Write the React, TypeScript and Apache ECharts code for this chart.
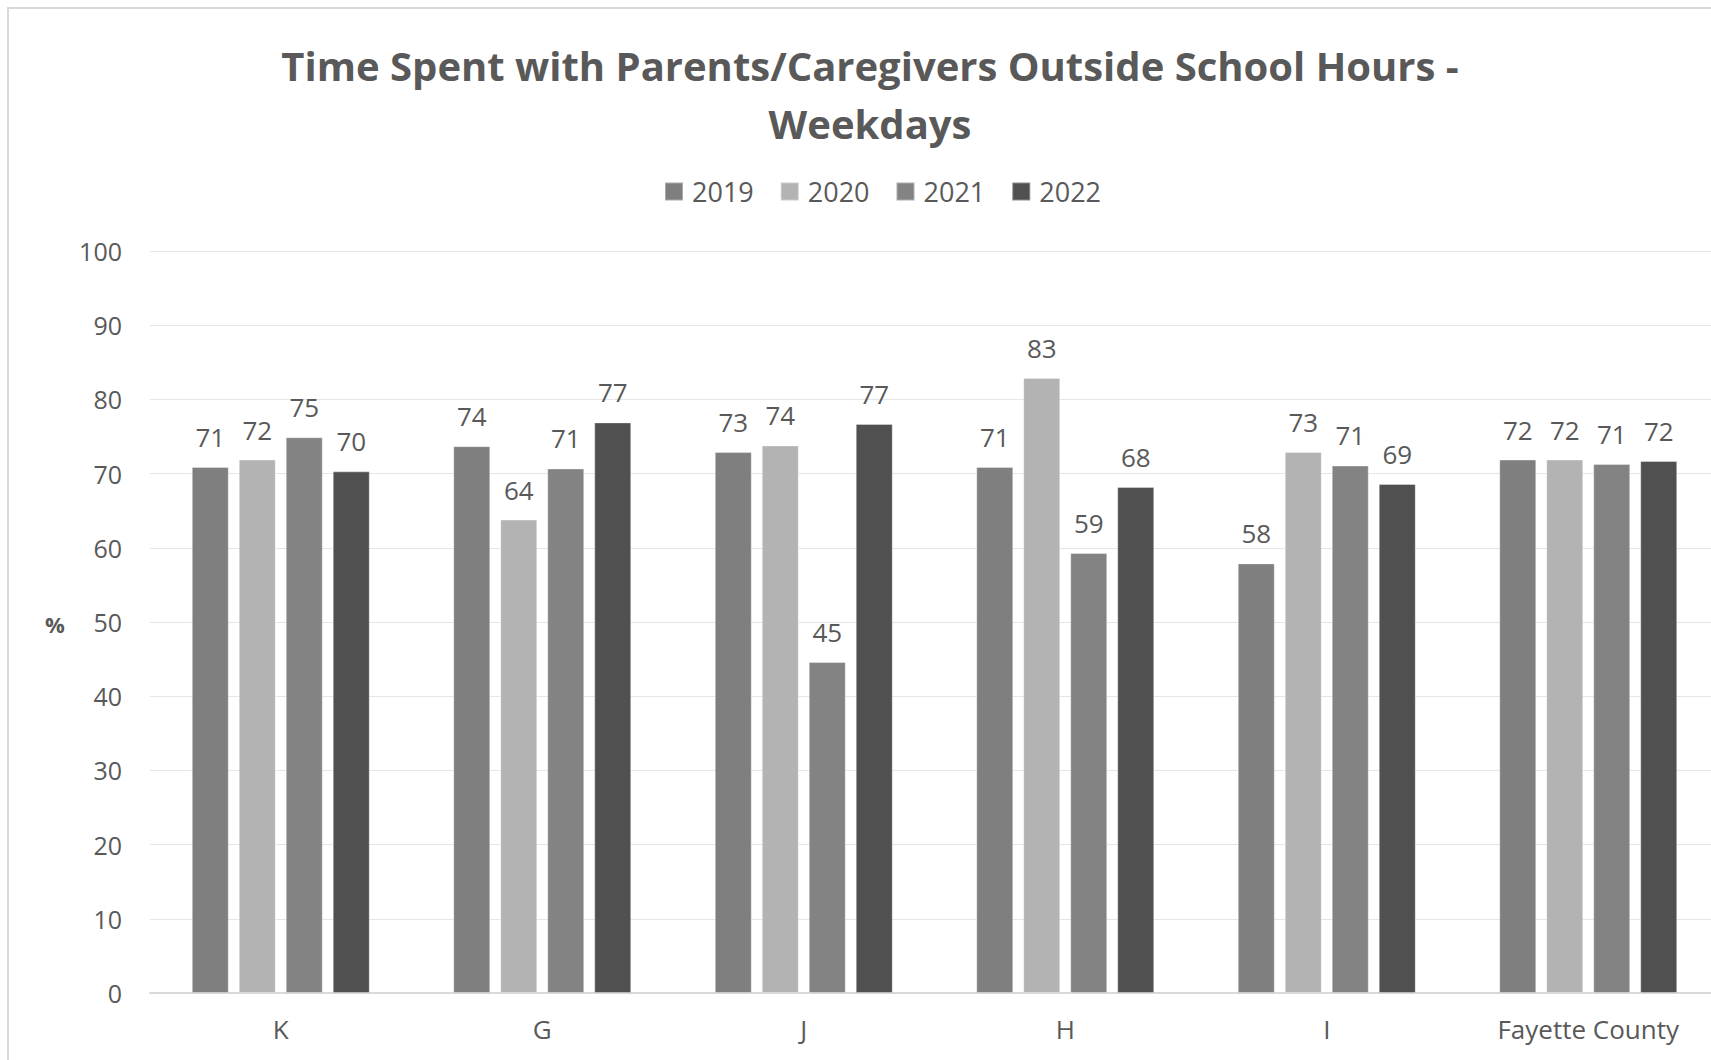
import React, { useEffect, useRef } from "react";
import * as echarts from "echarts";

const categories = ["K", "G", "J", "H", "I", "Fayette County"];
const seriesNames = ["2019", "2020", "2021", "2022"];
const values2019 = [70.9, 73.7, 72.9, 70.9, 57.9, 71.9];
const values2020 = [71.9, 63.8, 73.8, 82.9, 72.9, 71.9];
const values2021 = [74.9, 70.7, 44.6, 59.3, 71.1, 71.3];
const values2022 = [70.3, 76.9, 76.7, 68.2, 68.6, 71.7];
const colors = ["#7f7f7f", "#b3b3b3", "#838383", "#505050"];
const yTicks = { min: 0, max: 100, interval: 10 };

export default function App() {
  const ref = useRef<HTMLDivElement>(null);
  useEffect(() => {
    if (!ref.current) return;
    const chart = echarts.init(ref.current, null, { renderer: "svg" });
    const textColor = "#595959";
    const font = "'Open Sans', sans-serif";
    const allValues = [values2019, values2020, values2021, values2022];
    chart.setOption({
      animation: false,
      backgroundColor: "#ffffff",
      textStyle: { fontFamily: font },
      title: {
        text: "Time Spent with Parents/Caregivers Outside School Hours -\nWeekdays",
        left: 870,
        top: 36,
        padding: 0,
        textAlign: "center",
        textStyle: {
          fontFamily: font,
          fontWeight: "bold",
          fontSize: 40,
          lineHeight: 58,
          color: textColor,
        },
      },
      legend: {
        top: 173,
        left: 883,
        itemWidth: 18,
        itemHeight: 18,
        itemGap: 26,
        icon: "rect",
        textStyle: { fontFamily: font, fontSize: 27, color: textColor, padding: [0, 0, 0, 4] },
        data: seriesNames,
      },
      grid: { left: 150, right: 0, top: 251, bottom: 67, containLabel: false },
      xAxis: {
        type: "category",
        data: categories,
        axisLine: { show: true, lineStyle: { color: "#d9d9d9", width: 2 } },
        axisTick: { show: false },
        axisLabel: { fontFamily: font, fontSize: 26, color: textColor, margin: 23 },
      },
      yAxis: {
        type: "value",
        min: yTicks.min,
        max: yTicks.max,
        interval: yTicks.interval,
        axisLine: { show: false },
        axisTick: { show: false },
        splitLine: { lineStyle: { color: "#e6e6e6", width: 1 } },
        axisLabel: { fontFamily: font, fontSize: 25, color: textColor, margin: 28 },
      },
      graphic: [
        {
          type: "rect",
          shape: { x: 8, y: 8, width: 1800, height: 1200 },
          style: { fill: "none", stroke: "#d9d9d9", lineWidth: 2 },
          silent: true,
        },
        {
          type: "text",
          x: 55,
          y: 624,
          style: {
            text: "%",
            fontFamily: font,
            fontWeight: "bold",
            fontSize: 22,
            fill: textColor,
            align: "center",
            verticalAlign: "middle",
          },
        },
      ],
      series: seriesNames.map((name, i) => ({
        name,
        type: "bar",
        data: allValues[i],
        barWidth: 37,
        barGap: "27%",
        itemStyle: { color: colors[i], borderColor: "rgba(255,255,255,0.35)", borderWidth: 1 },
        label: {
          show: true,
          position: "top",
          distance: 17,
          fontFamily: font,
          fontSize: 26,
          color: textColor,
          formatter: (p: any) => String(Math.round(p.value)),
        },
      })),
    });
    const legendView: any = (chart as any).getViewOfComponentModel?.((chart as any).getModel().getComponent("legend"));
    if (legendView && legendView.group) {
      const rect = legendView.group.getBoundingRect();
      chart.setOption({ legend: { left: Math.round(883 - rect.width / 2) } });
    }
    return () => chart.dispose();
  }, []);
  return (
    <div style={{ position: "absolute", left: 0, top: 0, width: 1711, height: 1060, overflow: "hidden" }}>
      <div ref={ref} style={{ width: 1719, height: 1060 }} />
    </div>
  );
}
